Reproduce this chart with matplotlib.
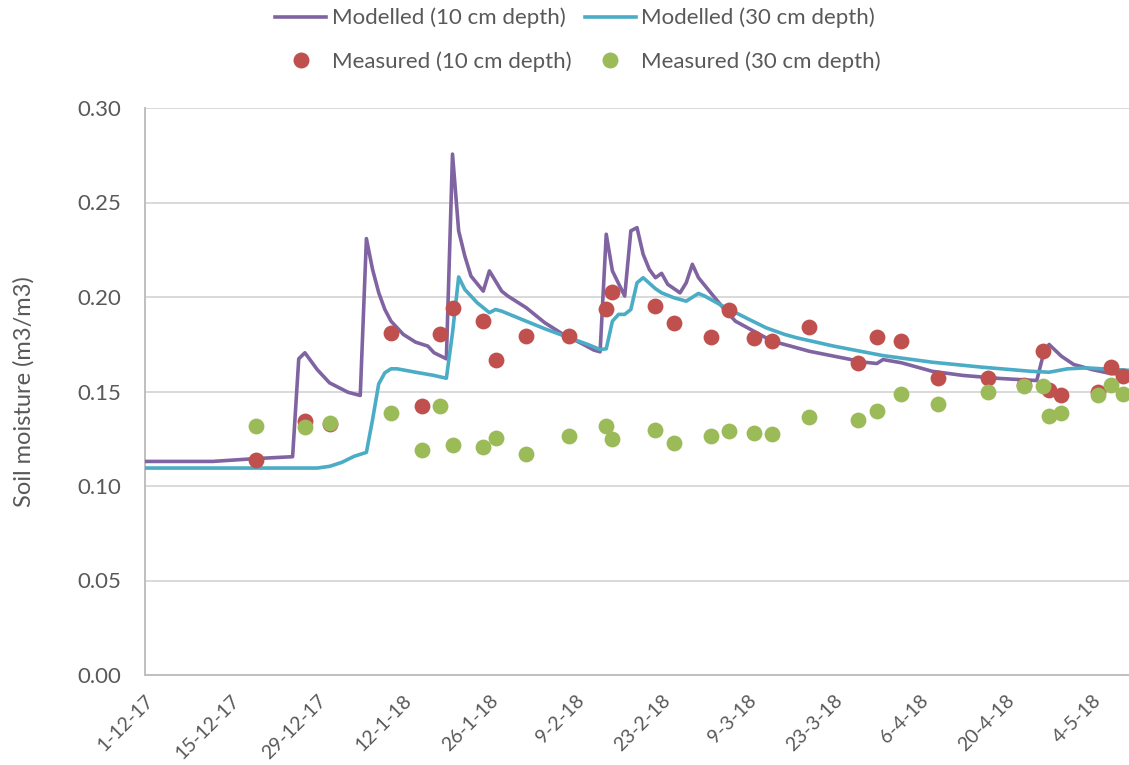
import matplotlib
matplotlib.use("Agg")
import matplotlib.pyplot as plt
import pandas as pd
from matplotlib.lines import Line2D

start = pd.Timestamp("2017-12-01")

# modelled soil moisture, days after 1 Dec 2017
model10_days = [0, 11, 18, 24, 25, 26, 28, 30, 33, 35, 36, 37, 38, 39, 40, 42, 44, 46, 47, 49,
                50, 51, 52, 53, 55, 56, 58, 59, 62, 65, 68, 71, 73, 74, 75, 76, 78, 79, 80, 81,
                82, 83, 84, 85, 87, 88, 89, 90, 92, 94, 96, 99, 102, 105, 108, 112, 117, 119, 120,
                123, 128, 133, 139, 145, 146, 147, 149, 151, 154, 157, 160]
model10 = [0.1130, 0.1130, 0.1145, 0.1155, 0.1673, 0.1705, 0.1616, 0.1546, 0.1496, 0.1479,
           0.2309, 0.2146, 0.2023, 0.1934, 0.1872, 0.1802, 0.1761, 0.1740, 0.1705, 0.1673,
           0.2756, 0.2350, 0.2217, 0.2111, 0.2031, 0.2138, 0.2031, 0.2005, 0.1943, 0.1864,
           0.1802, 0.1754, 0.1719, 0.1710, 0.2332, 0.2138, 0.2005, 0.2350, 0.2367, 0.2226,
           0.2146, 0.2102, 0.2125, 0.2067, 0.2022, 0.2075, 0.2173, 0.2102, 0.2022, 0.1943,
           0.1872, 0.1819, 0.1766, 0.1740, 0.1713, 0.1687, 0.1655, 0.1648, 0.1669, 0.1652,
           0.1607, 0.1585, 0.1569, 0.1558, 0.1687, 0.1749, 0.1687, 0.1643, 0.1616, 0.1595,
           0.1590]

model30_days = [0, 28, 30, 32, 34, 36, 37, 38, 39, 40, 41, 44, 47, 49, 50, 51, 52, 54, 56, 57,
                58, 61, 65, 69, 72, 74, 75, 76, 77, 78, 79, 80, 81, 83, 84, 86, 88, 90, 91, 94,
                98, 101, 104, 106, 112, 120, 128, 136, 144, 147, 150, 153, 160]
model30 = [0.1095, 0.1095, 0.1104, 0.1125, 0.1157, 0.1178, 0.1351, 0.1540, 0.1599, 0.1620,
           0.1620, 0.1602, 0.1585, 0.1570, 0.1810, 0.2106, 0.2040, 0.1970, 0.1917, 0.1934,
           0.1925, 0.1885, 0.1832, 0.1784, 0.1749, 0.1722, 0.1726, 0.1872, 0.1908, 0.1908,
           0.1934, 0.2075, 0.2102, 0.2044, 0.2022, 0.1996, 0.1978, 0.2019, 0.2005, 0.1951,
           0.1885, 0.1837, 0.1802, 0.1784, 0.1740, 0.1690, 0.1655, 0.1629, 0.1607, 0.1602,
           0.1620, 0.1625, 0.1612]

# field measurements
meas_days = [18, 26, 30, 40, 45, 48, 50, 55, 57, 62, 69, 75, 76, 83, 86, 92, 95, 99, 102, 108,
             116, 119, 123, 129, 137, 143, 146, 147, 149, 155, 157, 159]
meas10 = [0.1140, 0.1346, 0.1326, 0.1807, 0.1422, 0.1802, 0.1941, 0.1872, 0.1669, 0.1796,
          0.1796, 0.1938, 0.2026, 0.1951, 0.1864, 0.1788, 0.1931, 0.1784, 0.1766, 0.1841,
          0.1652, 0.1786, 0.1766, 0.1572, 0.1572, 0.1535, 0.1713, 0.1507, 0.1479, 0.1496,
          0.1629, 0.1581]
meas30 = [0.1316, 0.1312, 0.1334, 0.1387, 0.1192, 0.1422, 0.1215, 0.1206, 0.1254, 0.1171,
          0.1267, 0.1320, 0.1251, 0.1295, 0.1228, 0.1267, 0.1289, 0.1280, 0.1277, 0.1364,
          0.1351, 0.1395, 0.1487, 0.1436, 0.1496, 0.1531, 0.1531, 0.1373, 0.1387, 0.1479,
          0.1537, 0.1489]


def to_dates(days):
    return start + pd.to_timedelta(days, unit="D")


purple = "#8064A2"
cyan = "#4BACC6"
red = "#C0504D"
green = "#9BBB59"
grey_txt = "#595959"

plt.rcParams["font.family"] = ["Lato", "DejaVu Sans"]

fig = plt.figure(figsize=(11.29, 7.65), dpi=100)
ax = fig.add_axes([145 / 1129, 90 / 765, 984 / 1129, 567 / 765])

ax.plot(to_dates(model10_days), model10, color=purple, lw=2.6, zorder=3)
ax.plot(to_dates(model30_days), model30, color=cyan, lw=2.6, zorder=3)
ax.scatter(to_dates(meas_days), meas10, s=130, color=red, lw=0, zorder=4)
ax.scatter(to_dates(meas_days), meas30, s=130, color=green, lw=0, zorder=5)

ax.set_xlim(start, start + pd.Timedelta(days=160))
ax.set_ylim(0, 0.30)
ax.set_yticks([0, 0.05, 0.10, 0.15, 0.20, 0.25, 0.30])
ax.set_yticklabels([f"{v:.2f}" for v in ax.get_yticks()])

ticks = pd.date_range(start, "2018-05-04", freq="14D")
ax.set_xticks(ticks)
ax.set_xticklabels([f"{d.day}-{d.month}-{d:%y}" for d in ticks], rotation=45,
                   ha="right", va="top", rotation_mode="anchor")

ax.grid(axis="y", color="#d9d9d9", lw=1.4)
ax.set_axisbelow(True)
for s in ["top", "right"]:
    ax.spines[s].set_visible(False)
for s in ["left", "bottom"]:
    ax.spines[s].set_color("#bfbfbf")
    ax.spines[s].set_linewidth(1.4)
ax.tick_params(length=0, labelcolor=grey_txt)
ax.tick_params(axis="y", pad=17, labelsize=16)
ax.tick_params(axis="x", pad=12, labelsize=14)

ax.set_ylabel("Soil moisture (m3/m3)", fontsize=17, color=grey_txt)
ax.yaxis.set_label_coords(-0.112, 0.5)

handles = [
    Line2D([], [], color=purple, lw=2.6),
    Line2D([], [], color=red, marker="o", ls="", ms=11.5, mew=0),
    Line2D([], [], color=cyan, lw=2.6),
    Line2D([], [], color=green, marker="o", ls="", ms=11.5, mew=0),
]
labels = ["Modelled (10 cm depth)", "Measured (10 cm depth)",
          "Modelled (30 cm depth)", "Measured (30 cm depth)"]
leg = fig.legend(handles, labels, ncol=2, loc="center", bbox_to_anchor=(578 / 1129, 1 - 40 / 765),
                 frameon=False, fontsize=16, handlelength=2.3, handletextpad=0.25,
                 columnspacing=0.6, labelspacing=1.05, labelcolor=grey_txt)

fig.savefig("out.png", dpi=100)
